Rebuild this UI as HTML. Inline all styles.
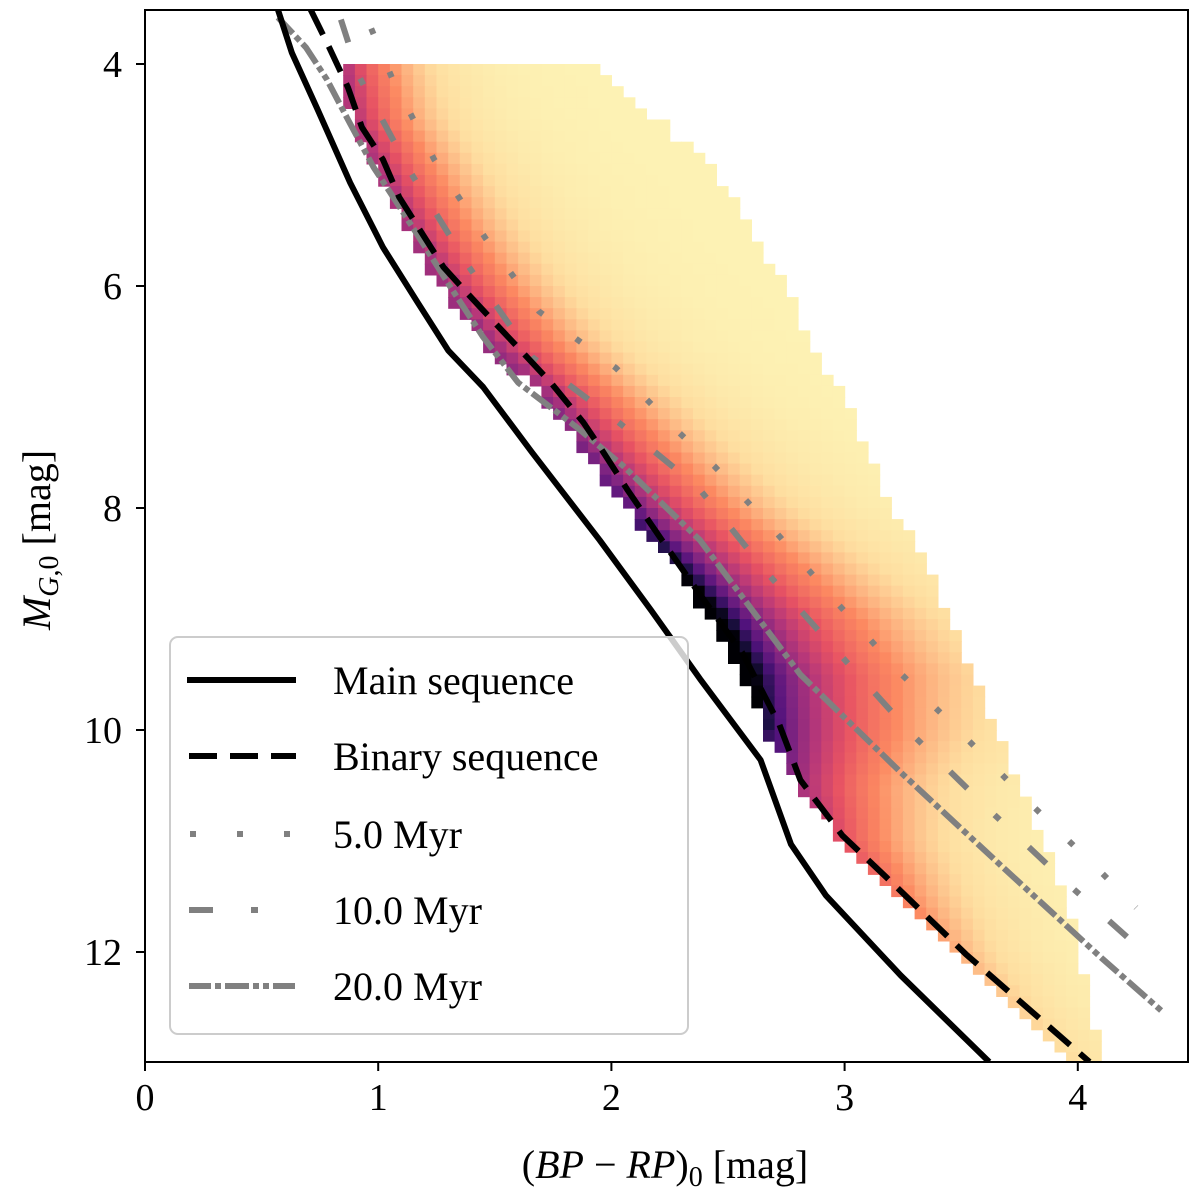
<!DOCTYPE html>
<html><head><meta charset="utf-8"><style>
html,body{margin:0;padding:0;background:#fff;}
svg{display:block;font-family:"Liberation Serif",serif;}
</style></head><body>
<svg id="chart" width="1200" height="1198" viewBox="0 0 1200 1198" xmlns="http://www.w3.org/2000/svg">
<defs><clipPath id="plotclip"><rect x="145" y="10" width="1043" height="1052"/></clipPath></defs>
<g id="heat" clip-path="url(#plotclip)"></g>
<g id="lines" clip-path="url(#plotclip)"></g>
<rect x="145" y="10" width="1043" height="1052" fill="none" stroke="#000" stroke-width="2"/>
<g id="axes"></g>
<text x="665" y="1178" font-size="40" text-anchor="middle">(<tspan font-style="italic">BP</tspan> − <tspan font-style="italic">RP</tspan>)<tspan font-size="28" dy="8">0</tspan><tspan dy="-8"> [mag]</tspan></text>
<text transform="translate(50,540) rotate(-90)" font-size="40" text-anchor="middle"><tspan font-style="italic">M</tspan><tspan font-size="28" dy="8" font-style="italic">G</tspan><tspan font-size="28">,0</tspan><tspan dy="-8"> [mag]</tspan></text>
<g>
<rect x="170" y="637" width="518" height="397" rx="8" fill="#fff" fill-opacity="0.8" stroke="#ccc" stroke-width="2"/>
<line x1="187" y1="680" x2="296" y2="680" stroke="#000" stroke-width="6"/>
<text x="333" y="694" font-size="40">Main sequence</text>
<line x1="189" y1="756" x2="296" y2="756" stroke="#000" stroke-width="6" stroke-dasharray="28 13"/>
<text x="333" y="770" font-size="40">Binary sequence</text>
<line x1="190" y1="834" x2="296" y2="834" stroke="#808080" stroke-width="6" stroke-dasharray="6 41"/>
<text x="333" y="848" font-size="40">5.0 Myr</text>
<line x1="189" y1="910" x2="296" y2="910" stroke="#808080" stroke-width="6" stroke-dasharray="24 38 7 40"/>
<text x="333" y="924" font-size="40">10.0 Myr</text>
<line x1="189" y1="986" x2="296" y2="986" stroke="#808080" stroke-width="6" stroke-dasharray="22 4 6 4 24 4 6 4 6 4"/>
<text x="333" y="1000" font-size="40">20.0 Myr</text>
</g>
</svg>
<script>
// axis tick data
const xTicks = [0, 1, 2, 3, 4];
const yTicks = [4, 6, 8, 10, 12];
// curves (BP-RP, M_G)
const msColor = [0.57,0.63,0.74,0.88,1.02,1.17,1.30,1.45,1.66,1.95,2.17,2.38,2.64,2.77,2.92,3.24,3.62];
const msMag   = [3.51,3.90,4.41,5.07,5.65,6.15,6.58,6.91,7.50,8.29,8.92,9.54,10.27,11.03,11.49,12.21,12.99];
const binColor = [0.71,0.79,0.87,0.93,1.02,1.09,1.18,1.28,1.38,1.49,1.62,1.74,1.88,1.96,2.07,2.22,2.38,2.56,2.72,2.81,2.99,3.24,3.52,3.81,4.05];
const binMag   = [3.51,3.85,4.21,4.57,4.86,5.20,5.50,5.83,6.06,6.31,6.60,6.87,7.23,7.48,7.84,8.30,8.78,9.30,9.95,10.45,10.95,11.45,12.02,12.55,12.99];
const iso5Color = [0.97,1.06,1.24,1.46,1.69,2.02,2.29,2.44,2.71,2.97,3.24,3.52,3.80,4.09,4.25];
const iso5Mag   = [3.68,4.13,4.86,5.57,6.23,6.74,7.32,7.62,8.23,8.86,9.49,10.07,10.67,11.26,11.6];
const iso10Color = [0.84,0.92,1.14,1.39,1.66,2.02,2.37,2.67,2.98,3.29,3.62,3.97,4.31];
const iso10Mag   = [3.60,4.12,4.98,5.83,6.64,7.21,7.81,8.59,9.32,10.04,10.72,11.41,12.05];
const iso20Color = [0.57,0.69,0.78,0.87,0.98,1.08,1.19,1.31,1.45,1.60,1.70,1.85,2.05,2.38,2.81,3.24,3.67,4.10,4.37];
const iso20Mag   = [3.58,3.85,4.14,4.50,4.93,5.25,5.61,6.01,6.46,6.87,7.03,7.27,7.62,8.29,9.50,10.38,11.22,12.05,12.55];
// heatmap row profiles
const rowMag   = [4,4.5,5,5.5,6,6.5,7,7.5,8,8.5,9,9.5,10,10.5,11,11.5,12,12.5,13];
const rowLeft  = [0.84,0.88,1.0,1.12,1.27,1.45,1.7,1.88,2.06,2.26,2.42,2.55,2.66,2.8,2.98,3.22,3.45,3.7,3.95];
const rowRight = [1.9,2.2,2.45,2.6,2.75,2.85,3.0,3.1,3.2,3.35,3.45,3.55,3.65,3.75,3.85,3.95,4.0,4.05,4.1];
const rowPeak  = [0.55,0.56,0.58,0.6,0.62,0.64,0.66,0.72,0.8,0.95,1.1,1.1,0.9,0.6,0.4,0.28,0.2,0.15,0.12];
const rowWidth = [0.2,0.22,0.24,0.25,0.26,0.27,0.28,0.3,0.32,0.35,0.38,0.4,0.38,0.32,0.28,0.26,0.25,0.25,0.25];

const X = v => 145 + v * 233.2;
const Y = m => 64 + (m - 4) * 111;
const NS = "http://www.w3.org/2000/svg";
const svgEl = (t, a) => { const e = document.createElementNS(NS, t); for (const k in a) e.setAttribute(k, a[k]); return e; };

// magma_r colormap
const stops = [[0,[252,253,191]],[0.12,[254,222,160]],[0.25,[252,137,97]],[0.4,[231,82,99]],[0.55,[183,55,121]],[0.7,[129,37,129]],[0.82,[81,18,124]],[0.92,[28,16,68]],[1,[0,0,4]]];
function cmap(v){ v=Math.max(0,Math.min(1,v)); for(let i=1;i<stops.length;i++){ if(v<=stops[i][0]){ const [a,ca]=stops[i-1],[b,cb]=stops[i]; const t=(v-a)/(b-a); return 'rgb('+ca.map((c,j)=>Math.round(c+(cb[j]-c)*t)).join(',')+')'; } } return 'rgb(0,0,4)'; }
function interp(arr, m){ for(let i=1;i<rowMag.length;i++){ if(m<=rowMag[i]){ const t=(m-rowMag[i-1])/(rowMag[i]-rowMag[i-1]); return arr[i-1]+(arr[i]-arr[i-1])*t; } } return arr[arr.length-1]; }

const heat = document.getElementById('heat');
const dx = 0.05, dy = 0.1;
for (let r = 0; r < 90; r++) {
  const m0 = 4 + r * dy, mc = m0 + dy / 2;
  const left = interp(rowLeft, mc), right = interp(rowRight, mc), peak = interp(rowPeak, mc), w = interp(rowWidth, mc);
  const i0 = Math.round(left / dx), i1 = Math.round(right / dx);
  for (let i = i0; i < i1; i++) {
    const x0 = i * dx, d = x0 - left;
    const v = 0.04 + (peak - 0.04) * Math.exp(-Math.max(0, d) / w);
    const rc = svgEl('rect', {x: X(x0).toFixed(1), y: Y(m0).toFixed(1), width: (dx*233.2+0.6).toFixed(1), height: (dy*111+0.6).toFixed(1), fill: cmap(v)});
    
    
    heat.appendChild(rc);
  }
}

const lines = document.getElementById('lines');
function addLine(cs, ms, stroke, dash, name){
  const d = cs.map((c,i)=>(i?'L':'M')+X(c).toFixed(1)+' '+Y(ms[i]).toFixed(1)).join(' ');
  const p = svgEl('path', {d, fill:'none', stroke, 'stroke-width':6, 'stroke-linejoin':'round'});
  if (dash) p.setAttribute('stroke-dasharray', dash);
  
  
  lines.appendChild(p);
}
addLine(iso5Color, iso5Mag, '#808080', '6 41', 'isochrone-5myr');
addLine(iso10Color, iso10Mag, '#808080', '24 38 7 40', 'isochrone-10myr');
addLine(iso20Color, iso20Mag, '#808080', '22 4 6 4 24 4 6 4 6 4', 'isochrone-20myr');
addLine(msColor, msMag, '#000', null, 'main-sequence-line');
addLine(binColor, binMag, '#000', '28 13', 'binary-sequence-line');

const axes = document.getElementById('axes');
xTicks.forEach(t => {
  const l = svgEl('line', {x1:X(t), x2:X(t), y1:1062, y2:1071, stroke:'#000', 'stroke-width':2});
  
  
  axes.appendChild(l);
  const tx = svgEl('text', {x:X(t), y:1110, 'font-size':38, 'text-anchor':'middle'});
  tx.textContent = t;
  
  
  axes.appendChild(tx);
});
yTicks.forEach(t => {
  const l = svgEl('line', {x1:136, x2:145, y1:Y(t), y2:Y(t), stroke:'#000', 'stroke-width':2});
  
  
  axes.appendChild(l);
  const tx = svgEl('text', {x:122, y:Y(t)+13, 'font-size':38, 'text-anchor':'end'});
  tx.textContent = t;
  
  
  axes.appendChild(tx);
});
</script>
</body></html>
